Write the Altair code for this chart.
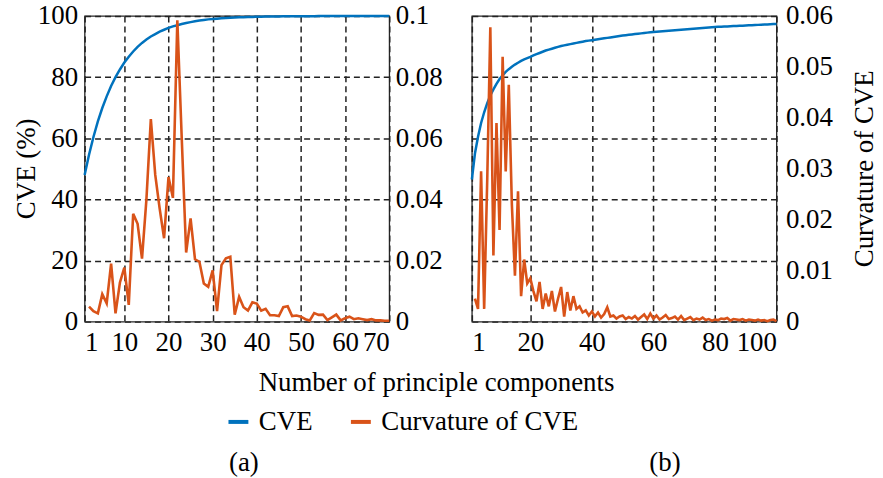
import altair as alt
import pandas as pd

# ---------------- data ----------------
pc_a = list(range(1, 71))
cve_a = [48.0, 54.6, 60.4, 65.5, 69.9, 73.7, 77.1, 80.0, 82.5, 84.8,
         86.7, 88.4, 89.9, 91.2, 92.3, 93.3, 94.1, 94.9, 95.5, 96.1,
         96.6, 97.0, 97.4, 97.7, 98.0, 98.3, 98.5, 98.7, 98.9, 99.0,
         99.13, 99.24, 99.34, 99.42, 99.50, 99.56, 99.62, 99.67, 99.71, 99.75,
         99.78, 99.81, 99.83, 99.85, 99.87, 99.89, 99.90, 99.92, 99.93, 99.94,
         99.95, 99.95, 99.96, 99.97, 99.97, 99.97, 99.98, 99.98, 99.98, 99.99,
         99.99, 99.99, 99.99, 99.99, 100.0, 100.0, 100.0, 100.0, 100.0, 100.0]

pc_a_curv = list(range(2, 71))
curv_a = [0.0049, 0.0034, 0.0027, 0.0090, 0.0060, 0.0190, 0.0027, 0.0128, 0.0177,
          0.0055, 0.0353, 0.0320, 0.0206, 0.0400, 0.0663, 0.0480, 0.0370, 0.0273, 0.0473,
          0.0405, 0.0986, 0.0600, 0.0226, 0.0338, 0.0204, 0.0196, 0.0125, 0.0114, 0.0168,
          0.0034, 0.0185, 0.0207, 0.0212, 0.0023, 0.0081, 0.0047, 0.0036, 0.0063, 0.0059,
          0.0036, 0.0042, 0.0021, 0.0021, 0.0018, 0.0047, 0.0050, 0.0018, 0.0020, 0.0016,
          0.0008, 0.0004, 0.0028, 0.0022, 0.0023, 0.0005, 0.0014, 0.0023, 0.0004, 0.0011,
          0.0016, 0.0008, 0.0011, 0.0008, 0.0005, 0.0008, 0.0004, 0.0004, 0.0003, 0.0003]

pc_b = list(range(1, 101))
cve_b = [46.5, 55.0, 60.5, 65.0, 68.5, 71.5, 74.0, 76.0, 77.8, 79.4,
         80.6, 81.7, 82.6, 83.4, 84.1, 84.7, 85.3, 85.8, 86.2, 86.6,
         87.1, 87.5, 87.9, 88.3, 88.7, 89.0, 89.3, 89.6, 89.9, 90.2,
         90.4, 90.6, 90.8, 91.0, 91.2, 91.4, 91.6, 91.8, 91.95, 92.1,
         92.25, 92.4, 92.55, 92.7, 92.85, 93.0, 93.15, 93.3, 93.45, 93.6,
         93.72, 93.84, 93.96, 94.08, 94.2, 94.32, 94.44, 94.56, 94.68, 94.8,
         94.88, 94.96, 95.04, 95.12, 95.2, 95.28, 95.36, 95.44, 95.52, 95.6,
         95.68, 95.76, 95.84, 95.92, 96.0, 96.08, 96.16, 96.24, 96.32, 96.4,
         96.45, 96.5, 96.55, 96.6, 96.65, 96.7, 96.75, 96.8, 96.85, 96.9,
         96.95, 97.0, 97.05, 97.1, 97.15, 97.2, 97.25, 97.3, 97.35, 97.4]

pc_b_curv = list(range(2, 101))
curv_b = [0.0045, 0.0025, 0.0295, 0.0025, 0.0280, 0.0578, 0.0130, 0.0390, 0.0180,
          0.0520, 0.0295, 0.0465, 0.0230, 0.0090, 0.0256, 0.0050, 0.0122, 0.0075, 0.0085,
          0.0060, 0.0040, 0.0078, 0.0025, 0.0055, 0.0030, 0.0060, 0.0020, 0.0045, 0.0068,
          0.0010, 0.0058, 0.0022, 0.0050, 0.0025, 0.0030, 0.0018, 0.0022, 0.0012, 0.0020,
          0.0010, 0.0018, 0.0008, 0.0015, 0.0028, 0.0010, 0.0012, 0.0006, 0.0010, 0.0012,
          0.0005, 0.0009, 0.0006, 0.0011, 0.0004, 0.0009, 0.0014, 0.0005, 0.0016, 0.0006,
          0.0012, 0.0004, 0.0008, 0.0013, 0.0005, 0.0007, 0.0010, 0.0004, 0.0011, 0.0003,
          0.0006, 0.0009, 0.0003, 0.0006, 0.0004, 0.0008, 0.0003, 0.0005, 0.0002, 0.0004,
          0.0003, 0.0006, 0.0005, 0.0007, 0.0002, 0.0005, 0.0004, 0.0003, 0.0005, 0.0002,
          0.0004, 0.0003, 0.0002, 0.0004, 0.0002, 0.0003, 0.0001, 0.0003, 0.0004, 0.0001]

series_names = ["CVE", "Curvature of CVE"]
series_colors = ["#0072BD", "#D95319"]

x_ticks_a = [1, 10, 20, 30, 40, 50, 60, 70]
x_ticks_b = [1, 20, 40, 60, 80, 100]
cve_ticks = [0, 20, 40, 60, 80, 100]
curv_ticks_a = [0, 0.02, 0.04, 0.06, 0.08, 0.1]
curv_ticks_b = [0, 0.01, 0.02, 0.03, 0.04, 0.05, 0.06]

FONT = "Liberation Serif"
FS = 27
W, H = 306, 307

AX = dict(labelFont=FONT, labelFontSize=FS, labelColor="black",
          titleFont=FONT, titleFontSize=FS, titleFontWeight="normal", titleColor="black",
          ticks=False, domain=False,
          gridDash=[6, 4], gridColor="#222222", gridWidth=1.5, gridOpacity=1)

df_cve_a = pd.DataFrame({"pc": pc_a, "cve": cve_a, "series": series_names[0]})
df_curv_a = pd.DataFrame({"pc": pc_a_curv, "curv": curv_a, "series": series_names[1]})
df_cve_b = pd.DataFrame({"pc": pc_b, "cve": cve_b, "series": series_names[0]})
df_curv_b = pd.DataFrame({"pc": pc_b_curv, "curv": curv_b, "series": series_names[1]})

color = alt.Color(
    "series:N",
    scale=alt.Scale(domain=series_names, range=series_colors),
    sort=series_names,
    legend=alt.Legend(
        title=None, orient="none", direction="horizontal",
        legendX=141, legendY=394,
        symbolType="stroke", symbolSize=400, symbolStrokeWidth=4,
        labelFont=FONT, labelFontSize=FS, labelColor="black", labelLimit=400,
        labelOffset=7, columnPadding=30, padding=0,
    ),
)

# ---------------- panel (a) ----------------
xa = alt.X("pc:Q", scale=alt.Scale(domain=[1, 70], nice=False),
           axis=alt.Axis(values=x_ticks_a, title="Number of principle components",
                         titleX=353, titleY=69, titleBaseline="alphabetic",
                         titleAlign="center", labelPadding=8, **AX))

a_cve = alt.Chart(df_cve_a).mark_line(strokeWidth=2.5).encode(
    x=xa,
    y=alt.Y("cve:Q", scale=alt.Scale(domain=[0, 100], nice=False),
            axis=alt.Axis(values=cve_ticks, title="CVE (%)", orient="left",
                          grid=True, format="d", labelPadding=7,
                          titleX=-58, titleY=153, titleAlign="center",
                          titleBaseline="middle", titleAngle=270, **AX)),
    color=color,
)
a_curv = alt.Chart(df_curv_a).mark_line(strokeWidth=2.6).encode(
    x=xa,
    y=alt.Y("curv:Q", scale=alt.Scale(domain=[0, 0.1], nice=False),
            axis=alt.Axis(values=curv_ticks_a, title=None, orient="right",
                          grid=False, format=".2~f", labelPadding=6, **AX)),
    color=color,
)
a_lab = alt.Chart(pd.DataFrame({"t": ["(a)"]})).mark_text(
    font=FONT, fontSize=FS, baseline="alphabetic", align="center", color="black"
).encode(text="t:N", x=alt.value(160), y=alt.value(457))

panel_a = alt.layer(a_cve, a_curv, a_lab).resolve_scale(y="independent").properties(
    width=W, height=H)

# ---------------- panel (b) ----------------
xb = alt.X("pc:Q", scale=alt.Scale(domain=[1, 100], nice=False),
           axis=alt.Axis(values=x_ticks_b, title=None, labelPadding=8, **AX))

b_cve = alt.Chart(df_cve_b).mark_line(strokeWidth=2.5).encode(
    x=xb,
    y=alt.Y("cve:Q", scale=alt.Scale(domain=[0, 100], nice=False),
            axis=alt.Axis(values=cve_ticks, title=None, orient="left",
                          grid=True, labels=False, **AX)),
    color=color,
)
b_curv = alt.Chart(df_curv_b).mark_line(strokeWidth=2.6).encode(
    x=xb,
    y=alt.Y("curv:Q", scale=alt.Scale(domain=[0, 0.06], nice=False),
            axis=alt.Axis(values=curv_ticks_b, title="Curvature of CVE", orient="right",
                          grid=False, format=".2~f", labelPadding=9,
                          titleX=88, titleY=153, titleAlign="center",
                          titleBaseline="middle", titleAngle=270, **AX)),
    color=color,
)
b_lab = alt.Chart(pd.DataFrame({"t": ["(b)"]})).mark_text(
    font=FONT, fontSize=FS, baseline="alphabetic", align="center", color="black"
).encode(text="t:N", x=alt.value(194), y=alt.value(457))

panel_b = alt.layer(b_cve, b_curv, b_lab).resolve_scale(y="independent").properties(
    width=W, height=H)

chart = alt.hconcat(panel_a, panel_b, spacing=83, bounds="flush").properties(
    padding={"left": 12, "top": 0, "right": 5, "bottom": 0}
).configure_view(
    stroke="#262626", strokeWidth=1.3
)

chart.save("out.html", embed_options={"renderer": "svg", "actions": False})
